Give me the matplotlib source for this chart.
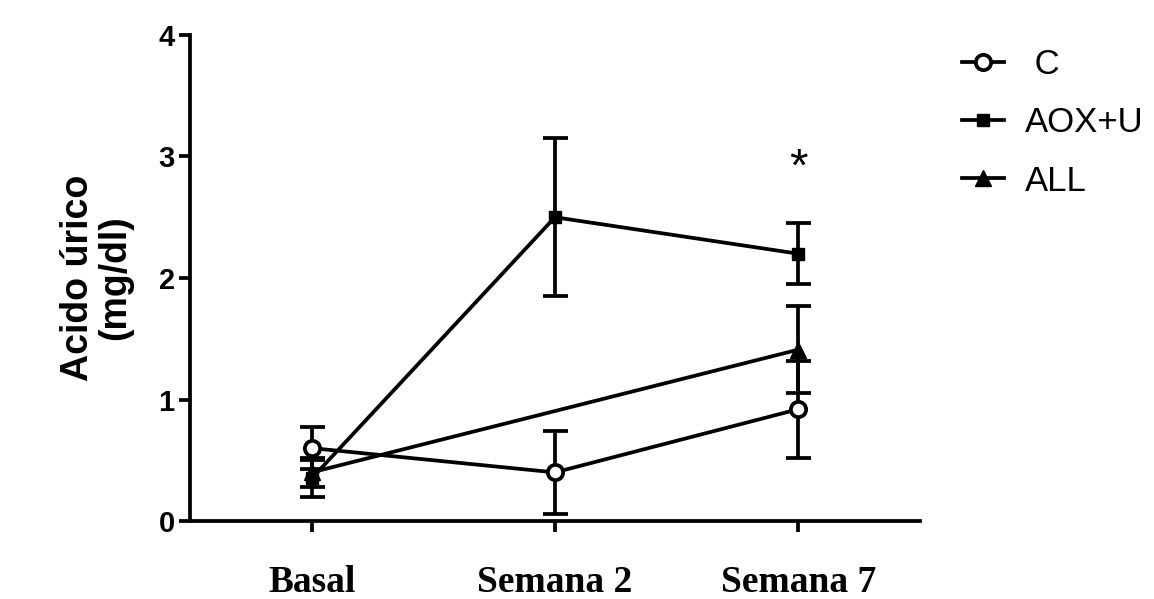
import numpy as np
import matplotlib.pyplot as plt
from matplotlib.lines import Line2D

# data
weeks = ["Basal", "Semana 2", "Semana 7"]

c_mean = [0.60, 0.40, 0.92]
c_err = [0.17, 0.34, 0.40]

aox_mean = [0.35, 2.50, 2.20]
aox_err = [0.15, 0.65, 0.25]

# ALL has no value at Semana 2
all_x = [0, 2]
all_mean = [0.40, 1.41]
all_err = [0.12, 0.36]

x = np.arange(len(weeks))

fig = plt.figure(figsize=(11.54, 5.99), dpi=100)
ax = fig.add_axes([0.1646, 0.1302, 0.6325, 0.8114])

lw = 2.7
common = dict(color="black", lw=lw, elinewidth=lw, capsize=9, capthick=lw)

ax.errorbar(all_x, all_mean, yerr=all_err, marker="^", ms=11,
            mfc="black", mec="black", zorder=3, **common)
ax.errorbar(x, aox_mean, yerr=aox_err, marker="s", ms=9,
            mfc="black", mec="black", zorder=4, **common)
ax.errorbar(x, c_mean, yerr=c_err, marker="o", ms=11, mfc="white",
            mec="black", mew=lw, zorder=5, **common)

ax.text(2, 2.9, "*", ha="center", va="center", fontsize=34,
        family="Liberation Sans")

ax.set_xlim(-0.5, 2.5)
ax.set_ylim(0, 4)
ax.set_yticks([0, 1, 2, 3, 4])
ax.set_xticks(x)
ax.set_xticklabels(weeks, family="Liberation Serif", fontweight="bold",
                   fontsize=27)
for t in ax.get_yticklabels():
    t.set_family("Liberation Sans")
    t.set_fontweight("bold")
    t.set_fontsize(21)

ax.spines["top"].set_visible(False)
ax.spines["right"].set_visible(False)
ax.spines["left"].set_linewidth(lw)
ax.spines["bottom"].set_linewidth(lw)
ax.tick_params(axis="y", length=8, width=lw, pad=3)
ax.tick_params(axis="x", length=8, width=lw, pad=24)

ax.set_ylabel("Acido úrico\n(mg/dl)", family="Liberation Sans",
              fontweight="bold", fontsize=27, labelpad=18, linespacing=1.05)

# legend: plain line + marker, no error bars
handles = [
    Line2D([], [], color="black", lw=lw, marker="o", ms=11, mfc="white",
           mec="black", mew=lw),
    Line2D([], [], color="black", lw=lw, marker="s", ms=9, mfc="black"),
    Line2D([], [], color="black", lw=lw, marker="^", ms=11, mfc="black"),
]
labels = [" C", "AOX+U", "ALL"]
fig.legend(handles, labels, loc="upper left", bbox_to_anchor=(0.834, 0.92),
           frameon=False, borderpad=0, borderaxespad=0,
           handlelength=1.2, handletextpad=0.6, labelspacing=0.73,
           prop={"family": "Liberation Sans", "size": 25})

fig.savefig("out.png", dpi=100)
